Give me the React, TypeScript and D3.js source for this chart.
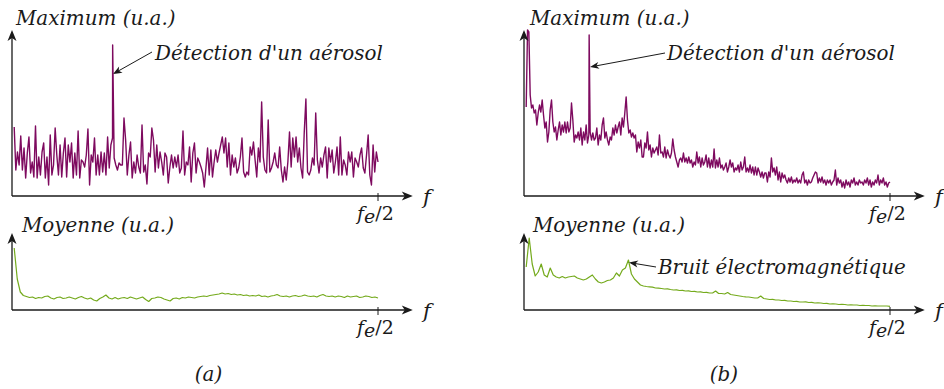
import React from "react";
import * as d3 from "d3";

// ---- Data (arbitrary units) ----
// (a) Maximum spectrum: noise floor (uniformly spaced in f from fStart to fe/2)
const maxA = [
  69, 26, 44, 31, 60, 26, 48, 18, 43, 59, 23, 34, 19, 70, 18, 39, 21, 44, 53, 18,
  39, 11, 61, 21, 31, 68, 41, 21, 51, 19, 43, 58, 19, 51, 34, 53, 18, 43, 21, 65,
  18, 36, 34, 29, 41, 67, 11, 41, 34, 58, 21, 41, 21, 44, 24, 43, 21, 59, 28, 51,
  58, 38, 31, 26, 33, 31,
  31, 78, 56, 21, 41, 54, 18, 34, 23, 41, 29, 23, 71, 24, 31, 12, 43, 39, 68, 56,
  24, 51, 28, 44, 34, 21, 43, 39, 13, 29, 41, 28, 39, 29, 41, 23, 28, 65, 21, 34,
  31, 49, 14, 43, 53, 23, 38, 34, 29, 23, 9, 28, 48, 21, 46, 19, 34, 46, 34, 43,
  51, 59, 43, 58, 29, 53, 21, 41, 29, 38, 23, 28, 39, 58, 24, 19, 24,
  21, 49, 41, 54, 36, 19, 48, 34, 94, 39, 26, 23, 76, 24, 28, 34, 43, 31, 28, 49,
  26, 14, 29, 16, 34, 64, 29, 58, 39, 59, 34, 48, 28, 18, 64, 97, 24, 21, 26, 38,
  31, 83, 36, 23, 38, 29, 41, 49, 18, 48, 34, 46, 23, 34, 49, 21, 59, 21, 36, 31,
  21, 44, 34, 44, 19, 38, 34, 29, 41, 48, 28, 23, 41, 61, 21, 11, 51, 24, 44, 34,
];
const aerosolA = [0.275, 151]; // [f / (fe/2), height]

// (b) Maximum spectrum
const maxB = [
  89, 166, 164, 101, 88, 91, 83, 86, 71, 83, 91, 84, 96, 81, 68, 74, 54, 64, 86, 96,
  74, 64, 69, 56, 66, 74, 61, 71, 64, 74, 63, 74, 64, 68, 93, 76, 54, 61, 58, 64,
  56, 68, 51, 64, 56, 71, 53,
  61, 64, 56, 63, 56, 58, 68, 51, 61, 56, 71, 78, 58, 64, 56, 51, 59, 56, 68, 61,
  71, 63, 69, 74, 61, 78, 69, 83, 99, 76, 63, 66, 59, 63, 58, 61, 44, 54, 48, 56, 39,
  39, 53, 48, 64, 46, 51, 39, 48, 43, 46, 49, 41, 61, 43, 44, 39, 49, 38, 46, 41,
  38, 43, 57, 46, 39, 34, 29, 36, 38, 34, 43, 34, 38, 33, 39, 33, 36, 29, 34, 31,
  44, 33, 39, 29, 38, 31, 34, 41, 29, 38, 28, 36, 29, 47, 28, 36, 29, 38, 28, 31,
  26, 29, 33, 24, 29, 36, 29, 33, 24, 28, 26, 31, 24, 34, 26, 29, 39, 24, 28, 24,
  31, 23, 29, 21, 29, 21, 28, 24, 19, 24, 18, 23,
  23, 14, 24, 19, 38, 24, 28, 21, 29, 16, 24, 14, 23, 18, 21, 16, 13, 18, 14, 19,
  13, 16, 14, 18, 13, 16, 13, 21, 24, 13, 16, 11, 16, 13, 14, 18, 21, 24, 23, 13,
  18, 14, 19, 13, 16, 11, 16, 13, 16, 11, 14, 16, 26, 11, 18, 13, 16, 9, 14, 8,
  16, 11, 14, 9, 16, 13, 18, 11, 14, 11, 16, 13, 14, 11, 16, 13, 18, 11, 16, 9,
  14, 11, 16, 13, 21, 11, 16, 13, 18, 11, 14, 9, 13, 14,
];
const aerosolB = [0.178, 161];

// (a) Mean spectrum
const moyA = [
  62, 31, 18, 14.5, 13.5, 12.5, 13, 11.5, 12.5, 12,
  13.5, 14, 12, 11, 12.5, 13, 11.5, 12, 13, 12,
  11, 12.5, 13.5, 12, 11, 12, 10, 9, 11.5, 13,
  15, 12, 11, 12.5, 11, 12, 12.5, 11.5, 13, 12,
  11, 12, 13, 10.5, 8.5, 11.5, 12, 13, 12.5, 11,
  10, 9, 11.5, 12, 11, 12.5, 12, 13, 12.5, 12,
  13, 13.5, 14, 13.5, 14.5, 15, 15.5, 16, 17, 16,
  16.5, 15.5, 16, 15, 15.5, 14.5, 15, 14, 14.5, 14,
  15, 13.5, 14, 13, 14, 14.5, 15.5, 14, 13.5, 14,
  13, 14, 14.5, 13.5, 14, 15, 14, 13.5, 14, 13,
  14.5, 15.5, 14, 13.5, 14, 13, 14, 13.5, 12.5, 14,
  13, 13.5, 14, 12.5, 13, 14, 13.5, 12.5, 13, 12,
];

// (b) Mean spectrum
const moyB = [
  43, 72, 46, 34, 38, 46, 35, 33, 42, 35,
  33, 32, 33.5, 32, 33, 33.5, 34, 32, 31, 30,
  31, 33, 35, 31, 28, 27, 28, 29.5, 30, 32,
  37, 34, 40, 42, 50, 36, 31, 28, 25, 24,
  23.5, 23.2, 22.8, 22, 21.8, 21.5, 21, 21.2, 20.5, 20,
  20.2, 19.5, 19.6, 19, 19.2, 18.5, 18.6, 18, 18.2, 17.5,
  17.6, 17, 17, 19, 16.5, 16.5, 16, 17.5, 15.5, 15,
  14.5, 14, 13.5, 13.2, 13, 12.5, 12, 12, 14, 11.5,
  11, 10.5, 10.6, 10, 10, 9.5, 9.6, 9, 9, 8.5,
  8.6, 8, 8, 8.1, 7.5, 7.6, 7, 7.1, 7, 6.5,
  6.6, 6, 6.1, 6, 5.5, 5.6, 5.5, 5, 5.1, 5,
  5, 4.5, 4.6, 4.5, 4.5, 4, 4.1, 4, 4, 4,
  4, 3.6,
];

const fStart = 0.006;
const topMax = 166;
const botMax = 77;

const yLabelTop = "Maximum (u.a.)";
const yLabelBot = "Moyenne (u.a.)";
const annotAerosol = "Détection d'un aérosol";
const annotBruit = "Bruit électromagnétique";

// ---- Styling ----
const PURPLE = "#7e0a5f";
const GREEN = "#74aa1c";
const INK = "#1a1a1a";
const FONT = "'DejaVu Serif', serif";
const FS = 19.9;

type Pt = [number, number];

function buildSeries(vals: number[], spike?: number[]): Pt[] {
  const step = (1 - fStart) / (vals.length - 1);
  const pts: Pt[] = vals.map((v, i) => [fStart + i * step, v]);
  if (spike) {
    pts.push([spike[0], spike[1]]);
    pts.sort((a, b) => a[0] - b[0]);
  }
  return pts;
}

function arrowHead(tx: number, ty: number, dx: number, dy: number, L: number, w: number, n: number) {
  const len = Math.hypot(dx, dy);
  const ux = dx / len, uy = dy / len;
  const px = -uy, py = ux;
  const bx = tx - L * ux, by = ty - L * uy;
  const nx = tx - (L - n) * ux, ny = ty - (L - n) * uy;
  return `M${tx},${ty} L${bx + w * px},${by + w * py} L${nx},${ny} L${bx - w * px},${by - w * py} Z`;
}

function Panel({ x0, xFe, yBase, yTop, vmax, data, color, width, label, labelX, labelY }: any) {
  const x = d3.scaleLinear().domain([0, 1]).range([x0, xFe]);
  const y = d3.scaleLinear().domain([0, vmax]).range([yBase, yTop]);
  const line = d3.line<Pt>().x((d) => x(d[0])).y((d) => y(d[1]));
  const tipX = x(1.095);
  return (
    <g>
      <path d={line(data) || ""} fill="none" stroke={color} strokeWidth={width} strokeLinejoin="round" />
      <line x1={x0} y1={yBase} x2={tipX - 4} y2={yBase} stroke={INK} strokeWidth={1.3} />
      <line x1={x0} y1={yBase} x2={x0} y2={yTop + 4} stroke={INK} strokeWidth={1.3} />
      <path d={arrowHead(tipX, yBase, 1, 0, 11, 4.5, 3)} fill={INK} />
      <path d={arrowHead(x0, yTop, 0, -1, 11, 4.5, 3)} fill={INK} />
      <line x1={xFe} y1={yBase - 3} x2={xFe} y2={yBase + 5} stroke={INK} strokeWidth={1} />
      <text x={labelX} y={labelY} fontFamily={FONT} fontStyle="italic" fontSize={FS} fill={INK}>{label}</text>
      <text x={xFe + 45} y={yBase + 8} fontFamily={FONT} fontStyle="italic" fontSize={21} fill={INK}>f</text>
      <text x={xFe - 21} y={yBase + 24} fontFamily={FONT} fontSize={19} fill={INK}>
        <tspan fontStyle="italic">f</tspan>
        <tspan fontStyle="italic" dy={3}>e</tspan>
        <tspan dy={-3}>/2</tspan>
      </text>
    </g>
  );
}

function Annot({ text, tx, ty, x1, y1, x2, y2 }: any) {
  return (
    <g>
      <line x1={x1} y1={y1} x2={x2 + (x1 - x2) * 0.08} y2={y2 + (y1 - y2) * 0.08} stroke={INK} strokeWidth={1} />
      <path d={arrowHead(x2, y2, x2 - x1, y2 - y1, 9, 3.5, 2.5)} fill={INK} />
      <text x={tx} y={ty} fontFamily={FONT} fontStyle="italic" fontSize={FS} fill={INK}>{text}</text>
    </g>
  );
}

export default function App() {
  const sMaxA = buildSeries(maxA, aerosolA);
  const sMaxB = buildSeries(maxB, aerosolB);
  const sMoyA = buildSeries(moyA);
  const sMoyB = buildSeries(moyB);
  return (
    <svg width={944} height={389} style={{ position: "absolute", left: 0, top: 0, background: "#fff" }}>
      <rect width={944} height={389} fill="#fff" />
      <Panel x0={12} xFe={378} yBase={196} yTop={30} vmax={topMax} data={sMaxA} color={PURPLE} width={1.4}
        label={yLabelTop} labelX={16} labelY={25} />
      <Panel x0={12} xFe={378} yBase={310} yTop={233} vmax={botMax} data={sMoyA} color={GREEN} width={1.2}
        label={yLabelBot} labelX={22} labelY={231.5} />
      <Panel x0={524} xFe={890} yBase={196} yTop={30} vmax={topMax} data={sMaxB} color={PURPLE} width={1.4}
        label={yLabelTop} labelX={530} labelY={25} />
      <Panel x0={524} xFe={890} yBase={310} yTop={233} vmax={botMax} data={sMoyB} color={GREEN} width={1.2}
        label={yLabelBot} labelX={533} labelY={231.5} />
      <Annot text={annotAerosol} tx={155} ty={60} x1={152} y1={52} x2={113} y2={74} />
      <Annot text={annotAerosol} tx={667} ty={60} x1={665} y1={53} x2={590} y2={67} />
      <Annot text={annotBruit} tx={658} ty={274} x1={656} y1={267} x2={629} y2={262.5} />
      <text x={208.5} y={381} textAnchor="middle" fontFamily={FONT} fontStyle="italic" fontSize={FS} fill={INK}>(a)</text>
      <text x={724} y={381} textAnchor="middle" fontFamily={FONT} fontStyle="italic" fontSize={FS} fill={INK}>(b)</text>
    </svg>
  );
}
